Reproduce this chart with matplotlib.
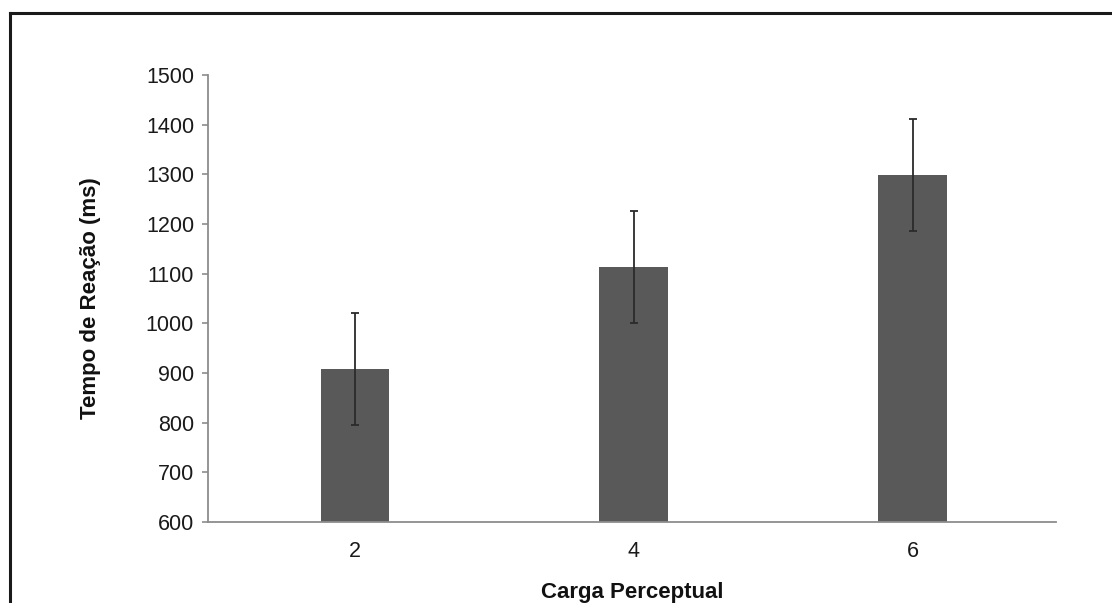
import matplotlib
matplotlib.use("Agg")
import matplotlib.pyplot as plt
from matplotlib.lines import Line2D

# dados do grafico
cargas = ["2", "4", "6"]
tempos = [908, 1113, 1298]
erros = [112, 113, 113]
yticks = [600, 700, 800, 900, 1000, 1100, 1200, 1300, 1400, 1500]

plt.rcParams['font.family'] = ['Liberation Sans', 'DejaVu Sans']

def main():
    fig = plt.figure(figsize=(11.12, 6.03), dpi=100)
    ax = fig.add_axes([0.187, 0.1343, 0.7626, 0.7413])

    x = list(range(len(cargas)))
    ax.bar(x, tempos, width=0.247, color='#595959', zorder=2)
    ax.errorbar(x, tempos, yerr=erros, fmt='none', ecolor='#2b2b2b',
                elinewidth=1.3, capsize=3, capthick=1.3, zorder=3)

    ax.set_xlim(-0.527, 2.513)
    ax.set_ylim(600, 1500)
    ax.set_yticks(yticks)
    ax.set_xticks(x)
    ax.set_xticklabels(cargas)

    for s in ['top', 'right']:
        ax.spines[s].set_visible(False)
    for s in ['left', 'bottom']:
        ax.spines[s].set_color('#8c8c8c')
        ax.spines[s].set_linewidth(1.3)

    ax.tick_params(axis='y', direction='out', length=4, width=1.2,
                   color='#8c8c8c', labelsize=15.5, labelcolor='#1a1a1a', pad=6)
    ax.tick_params(axis='x', length=0, labelsize=15.5, labelcolor='#1a1a1a', pad=14)

    ax.set_ylabel("Tempo de Reação (ms)", fontsize=16, fontweight='bold',
                  color='#111111', labelpad=32)
    ax.set_xlabel("Carga Perceptual", fontsize=16, fontweight='bold',
                  color='#111111', labelpad=14)

    # moldura (so esquerda e topo aparecem na imagem)
    fx = 10 / 1112
    fy = 1 - 13 / 603
    fig.add_artist(Line2D([fx, fx], [0, fy], transform=fig.transFigure,
                          color='#1a1a1a', linewidth=2.2))
    fig.add_artist(Line2D([fx, 1], [fy, fy], transform=fig.transFigure,
                          color='#1a1a1a', linewidth=2.2))

    fig.savefig('out.png', dpi=100)

if __name__ == "__main__":
    main()
